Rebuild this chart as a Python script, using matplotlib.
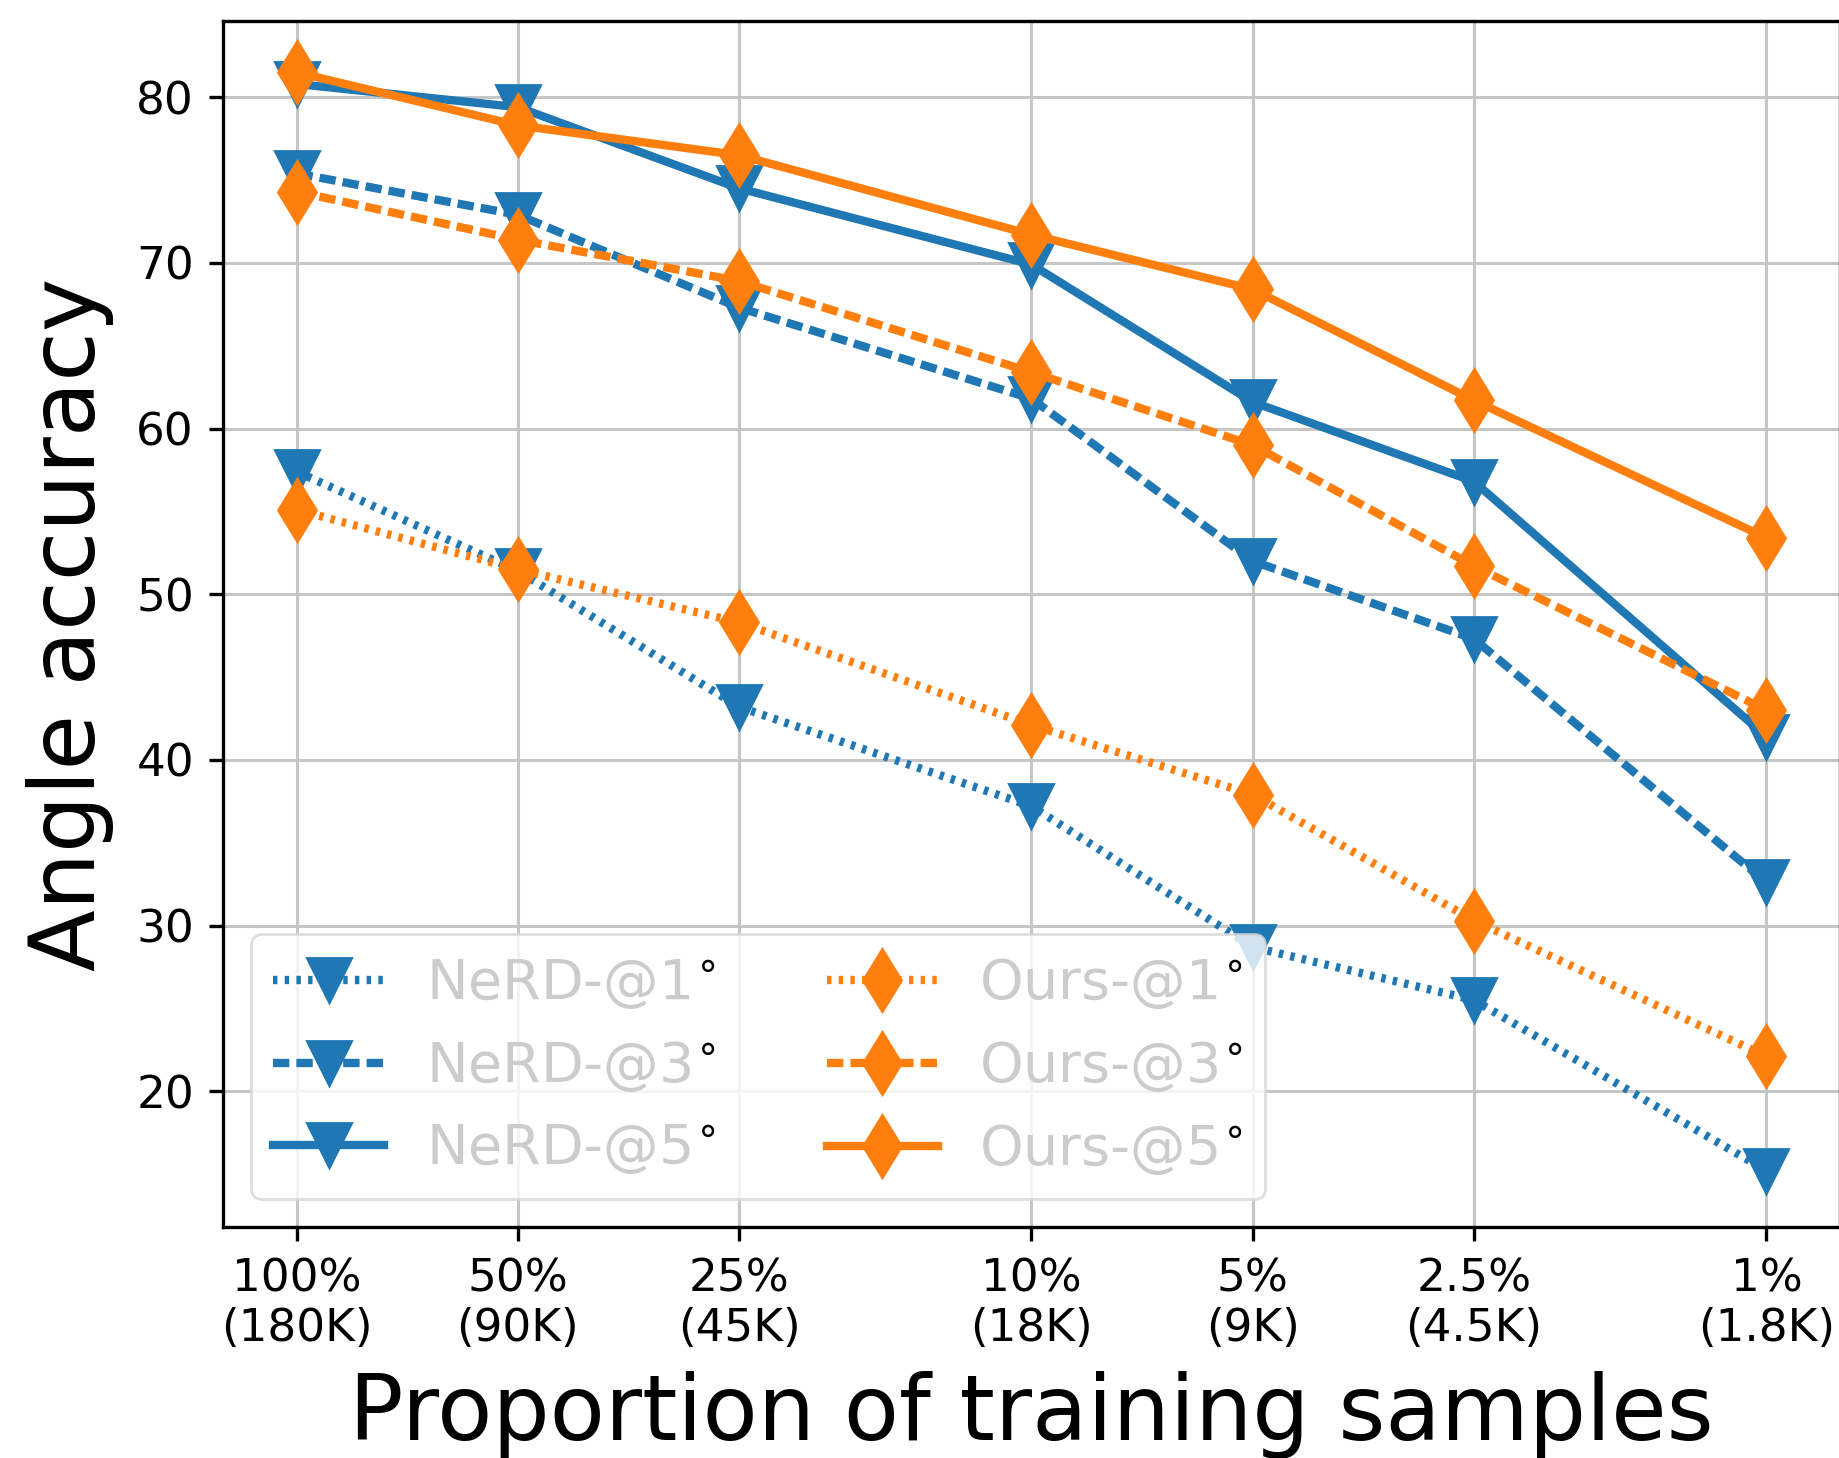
import numpy as np
import matplotlib
matplotlib.use("Agg")
import matplotlib.pyplot as plt
from matplotlib.transforms import Bbox, IdentityTransform

# ---------------------------------------------------------
# DATA
# ---------------------------------------------------------
proportions = [100, 50, 25, 10, 5, 2.5, 1]
tick_labels = ["100%\n(180K)", "50%\n(90K)", "25%\n(45K)", "10%\n(18K)",
               "5%\n(9K)", "2.5%\n(4.5K)", "1%\n(1.8K)"]

nerd_1 = [57.4, 51.4, 43.2, 37.2, 28.7, 25.5, 15.2]
nerd_3 = [75.4, 72.9, 67.3, 61.8, 52.0, 47.3, 32.6]
nerd_5 = [80.8, 79.4, 74.5, 69.9, 61.6, 56.8, 41.4]

ours_1 = [55.1, 51.5, 48.3, 42.1, 37.9, 30.3, 22.1]
ours_3 = [74.3, 71.4, 68.9, 63.4, 59.0, 51.7, 43.0]
ours_5 = [81.5, 78.3, 76.5, 71.7, 68.4, 61.7, 53.4]

BLUE = "#1f77b4"
ORANGE = "#ff7f0e"
DEG = r"$^{\!\circ}$"

# ---------------------------------------------------------
# PLOT
# ---------------------------------------------------------
fig = plt.figure(figsize=(9.195, 7.29), dpi=200)
ax = fig.add_axes([0.1213, 0.1584, 0.8792, 0.8272])

lw = 3.0
ms = 15.8
k = 0.53  # dash scale relative to line width
dotted = (0, (1.0 * k, 1.65 * k))
dashed = (0, (3.7 * k, 1.6 * k))
series = [
    (nerd_1, BLUE, "v", dotted, "NeRD-@1" + DEG),
    (nerd_3, BLUE, "v", dashed, "NeRD-@3" + DEG),
    (nerd_5, BLUE, "v", "-", "NeRD-@5" + DEG),
    (ours_1, ORANGE, "d", dotted, "Ours-@1" + DEG),
    (ours_3, ORANGE, "d", dashed, "Ours-@3" + DEG),
    (ours_5, ORANGE, "d", "-", "Ours-@5" + DEG),
]
for vals, col, mk, ls, lab in series:
    ax.plot(proportions, vals, color=col, marker=mk, ls=ls, lw=lw,
            ms=ms, label=lab)

ax.set_xscale("log")
ax.set_xlim(100 * 10 ** 0.1, 1 * 10 ** -0.1)
ax.set_ylim(11.8, 84.6)
ax.set_xticks(proportions)
ax.set_xticklabels(tick_labels, linespacing=1.2)
ax.xaxis.set_minor_locator(matplotlib.ticker.NullLocator())
ax.set_yticks([20, 30, 40, 50, 60, 70, 80])

ax.grid(True, color="#c6c6c6", lw=1.1)
ax.set_axisbelow(True)
for sp in ax.spines.values():
    sp.set_linewidth(1.2)
ax.tick_params(labelsize=16.3, length=5, width=1.2)
ax.tick_params(axis="x", pad=6)
ax.tick_params(axis="y", pad=5.5)

ax.set_xlabel("Proportion of training samples", fontsize=32.5, labelpad=7.5)
ax.set_ylabel("Angle accuracy", fontsize=32.5, labelpad=8)

leg = ax.legend(loc="lower left", ncol=2, fontsize=20, handlelength=2.0,
                handletextpad=0.75, labelcolor="#cccccc", edgecolor="#d6d6d6",
                framealpha=0.8, columnspacing=2.0)

# degree signs are black in the original: overlay a black copy clipped
# to the degree part of each legend label
fig.canvas.draw()
r = fig.canvas.get_renderer()
for t in leg.get_texts():
    bb = t.get_window_extent(r)
    base = t.get_text().replace(DEG, "")
    tmp = fig.text(0, 0, base, fontproperties=t.get_fontproperties())
    wb = tmp.get_window_extent(r).width
    tmp.remove()
    ov = fig.text(bb.x0, bb.y0, t.get_text(), transform=IdentityTransform(),
                  ha="left", va="bottom", fontproperties=t.get_fontproperties(),
                  color="black", zorder=10)
    ov.set_clip_box(Bbox([[bb.x0 + wb - 1, bb.y0 + bb.height * 0.45],
                          [bb.x1 + 3, bb.y1 + 3]]))

fig.savefig("out.png", dpi=200)
